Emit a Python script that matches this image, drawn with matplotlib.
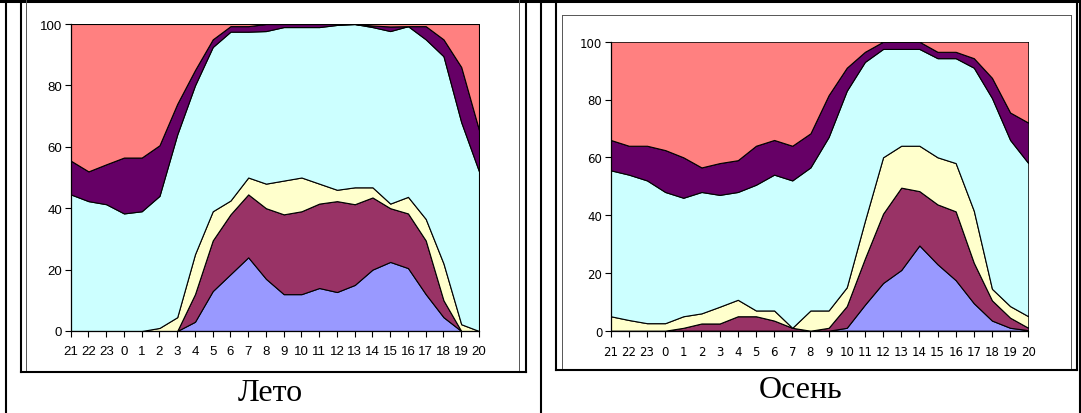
import numpy as np
import matplotlib.pyplot as plt
from matplotlib.lines import Line2D

hours = [21, 22, 23, 0, 1, 2, 3, 4, 5, 6, 7, 8, 9, 10, 11, 12, 13, 14, 15, 16, 17, 18, 19, 20]
colors = ['#9999FF', '#993366', '#FFFFCC', '#CCFFFF', '#660066', '#FF8080']

# Лето (summer) - share of each layer, %
summer_blue = [0, 0, 0, 0, 0, 0, 0, 3, 13, 18.5, 24, 17, 12, 12, 14, 12.7, 15, 20, 22.5, 20.5, 12, 4.5, 0, 0]
summer_red = [0, 0, 0, 0, 0, 0, 0, 9, 16.5, 19.5, 20.5, 23, 26, 27, 27.5, 29.6, 26.3, 23.5, 17.5, 17.8, 17.5, 5.5, 0, 0]
summer_yellow = [0, 0, 0, 0, 0, 1, 4.5, 13, 9.5, 4.5, 5.5, 8, 11, 11, 6.5, 3.7, 5.5, 3.3, 1.5, 5.4, 7, 12, 2.2, 0]
summer_cyan = [44.5, 42.3, 41.3, 38.3, 39, 43, 59.5, 55, 53.5, 55, 47.5, 49.7, 50, 49, 51, 53.7, 53.2, 52.2, 56.2, 55.6, 58.5, 67.5, 65.8, 52]
summer_purple = [11, 9.7, 13, 18.2, 17.5, 16.5, 10, 5, 2.5, 1.8, 1.8, 2.3, 1, 1, 1, 0.3, 0, 0.5, 1.5, 0, 4.3, 5.5, 18, 13.5]
summer_salmon = [44.5, 48, 45.7, 43.5, 43.5, 39.5, 26, 15, 5, 0.7, 0.7, 0, 0, 0, 0, 0, 0, 0.5, 0.8, 0.7, 0.7, 5, 14, 34.5]

# Осень (autumn)
autumn_blue = [0, 0, 0, 0, 0, 0, 0, 0, 0, 0, 0, 0, 0, 1, 9, 16.5, 21, 29.5, 23, 17.5, 9.5, 3.5, 1, 0.2]
autumn_red = [0, 0, 0, 0, 1, 2.5, 2.5, 5, 5, 3.5, 1, 0, 1, 7.5, 16, 24, 28.5, 18.8, 20.7, 23.8, 14, 7, 3.5, 0.8]
autumn_yellow = [5, 3.7, 2.6, 2.6, 4, 3.5, 5.8, 5.7, 2, 3.5, 0, 7, 6, 6.5, 13, 19.5, 14.5, 15.7, 16.3, 16.7, 18, 4, 4, 4]
autumn_cyan = [50.5, 50.3, 49.4, 45.4, 41, 42, 38.7, 37.3, 43.5, 47, 51, 49.5, 60, 68, 55, 37.5, 33.5, 33.5, 34.3, 36.3, 49.5, 66, 57.5, 53]
autumn_purple = [10.5, 10, 12, 14.5, 14, 8.5, 11, 11, 13.5, 12, 12, 11.8, 14.5, 8, 3.5, 2.5, 2.5, 2.5, 2.2, 2.2, 3.3, 7, 9.5, 14]
autumn_salmon = [34, 36, 36, 37.5, 40, 43.5, 42, 41, 36, 34, 36, 31.7, 18.5, 9, 3.5, 0, 0, 0, 3.5, 3.5, 5.7, 12.5, 24.5, 28]

W, H = 1081, 414


def box(x0, y0, x1, y1):
    return [x0 / W, 1 - y1 / H, (x1 - x0) / W, (y1 - y0) / H]


def line(x0, y0, x1, y1, lw=1.5, color='black'):
    fig.add_artist(Line2D([x0 / W, x1 / W], [1 - y0 / H, 1 - y1 / H],
                          lw=lw, color=color, transform=fig.transFigure))


def draw(ax, layers, tick_font, tick_size):
    x = np.arange(len(hours))
    ax.stackplot(x, *layers, colors=colors, edgecolor='black', linewidth=0.8)
    ax.set_xlim(0, len(hours) - 1)
    ax.set_ylim(0, 100)
    ax.set_xticks(x)
    ax.set_xticklabels([str(h) for h in hours])
    ax.set_yticks([0, 20, 40, 60, 80, 100])
    for s in ['top', 'right']:
        ax.spines[s].set_visible(False)
    for s in ['left', 'bottom']:
        ax.spines[s].set_linewidth(0.9)
    ax.tick_params(direction='out', length=4, width=0.8, pad=2)
    ax.tick_params(axis='x', pad=6)
    for lab in ax.get_xticklabels() + ax.get_yticklabels():
        lab.set_family(tick_font)
        lab.set_fontsize(tick_size)


fig = plt.figure(figsize=(W / 100, H / 100), dpi=100)

ax1 = fig.add_axes(box(70.7, 25, 479, 332))
draw(ax1, [summer_blue, summer_red, summer_yellow, summer_cyan, summer_purple, summer_salmon],
     ['Liberation Sans'], 9.5)

ax2 = fig.add_axes(box(610.7, 42.7, 1028.3, 331.7))
draw(ax2, [autumn_blue, autumn_red, autumn_yellow, autumn_cyan, autumn_purple, autumn_salmon],
     ['DejaVu Sans'], 8.5)

# table borders
line(0, 1.5, W, 1.5, lw=2.2)
line(5.5, 0, 5.5, H, lw=1.5)
line(541, 0, 541, H, lw=1.5)
line(1080, 0, 1080, H, lw=1.5)

# left chart frame
line(21, 0, 21, 373, lw=1.5)
line(525.5, 0, 525.5, 373, lw=1.5)
line(21, 373, 525.5, 373, lw=1.5)
line(26, 0, 26, 371, lw=0.7, color='#555555')
line(519, 0, 519, 371, lw=0.7, color='#555555')

# right chart frame
line(556, 0, 556, 371, lw=1.5)
line(1077.3, 0, 1077.3, 371, lw=1.5)
line(556, 371, 1077.3, 371, lw=1.5)
line(562, 15.5, 562, 369, lw=0.7, color='#555555')
line(1070.5, 15.5, 1070.5, 369, lw=0.7, color='#555555')
line(562, 15.5, 1070.5, 15.5, lw=0.7, color='#555555')

fig.text(270 / W, 1 - 401 / H, 'Лето', ha='center', va='baseline',
         family='Liberation Serif', fontsize=23)
fig.text(801 / W, 1 - 398 / H, 'Осень', ha='center', va='baseline',
         family='Liberation Serif', fontsize=23)

plt.savefig('out.png', dpi=100)
